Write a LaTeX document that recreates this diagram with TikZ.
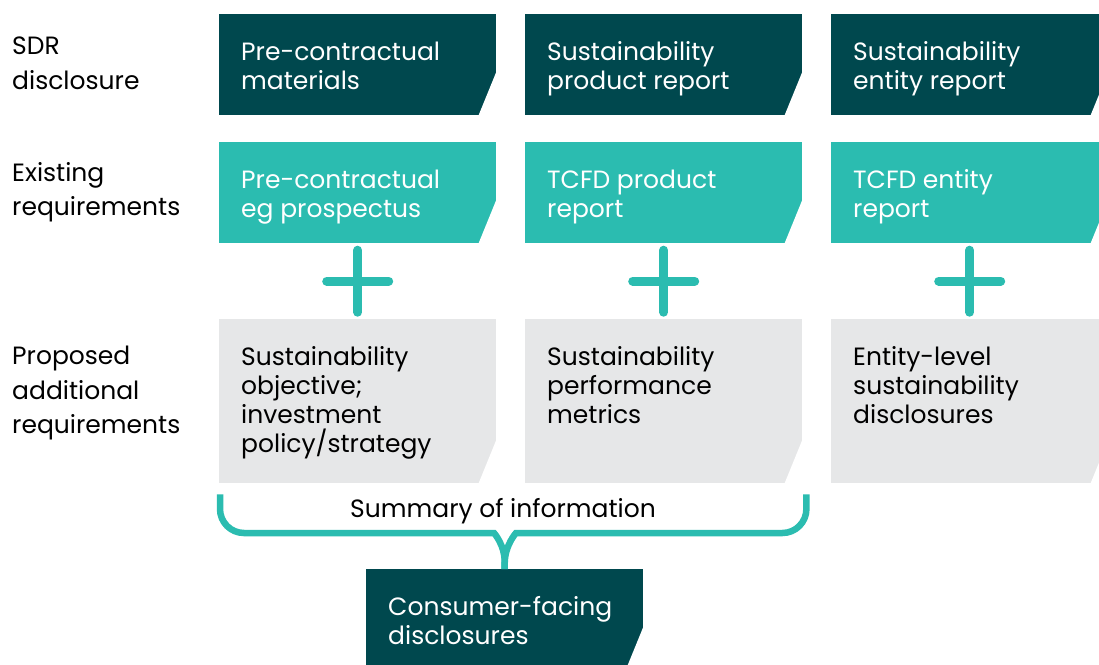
\documentclass[tikz,border=0pt]{standalone}
\usepackage{fontspec}
\setmainfont{Poppins}
\usetikzlibrary{calc}

\definecolor{sdrdark}{RGB}{0,72,78}
\definecolor{sdrteal}{RGB}{43,188,176}
\definecolor{sdrgrey}{RGB}{230,231,232}

\tikzset{
  card/.style={minimum width=277pt, minimum height=#1, inner sep=0pt, anchor=north west,
    path picture={\fill[white] ([xshift=-18pt,yshift=-1pt]path picture bounding box.south east)
      -- ([xshift=2pt,yshift=-1pt]path picture bounding box.south east)
      -- ([xshift=2pt,yshift=48pt]path picture bounding box.south east) -- cycle;}},
  cardtext/.style={anchor=north west, xshift=22pt, yshift=-27.5pt, inner sep=0pt, align=left,
    text=#1, font=\fontsize{25}{29}\selectfont},
  rowlabel/.style={anchor=north west, inner sep=0pt, align=left,
    font=\fontsize{25}{34.5}\selectfont},
  plus/.style={draw=sdrteal, line width=9pt, line cap=round},
  brace/.style={draw=sdrteal, line width=6.5pt}
}

\begin{document}
\begin{tikzpicture}[x=1pt, y=-1pt]
  \fill[white] (0,0) rectangle (1099,664);
  \useasboundingbox (0,0) rectangle (1099,664);

  % row labels
  \node[rowlabel] (lsdr) at (12,37) {SDR\\disclosure};
  \node[rowlabel] (lexist) at (12,162) {Existing\\requirements};
  \node[rowlabel] (lprop) at (12,346) {Proposed\\additional\\requirements};

  % SDR disclosure
  \node[card=101pt, fill=sdrdark, label={[cardtext=white]north west:Pre-contractual\\materials}] (sdr1) at (219,14) {};
  \node[card=101pt, fill=sdrdark, label={[cardtext=white]north west:Sustainability\\product report}] (sdr2) at (525,14) {};
  \node[card=101pt, fill=sdrdark, label={[cardtext=white]north west:Sustainability\\entity report}] (sdr3) at (831,14) {};

  % existing requirements
  \node[card=101pt, fill=sdrteal, label={[cardtext=white]north west:Pre-contractual\\eg prospectus}] (ex1) at (219,142) {};
  \node[card=101pt, fill=sdrteal, label={[cardtext=white]north west:TCFD product\\report}] (ex2) at (525,142) {};
  \node[card=101pt, fill=sdrteal, label={[cardtext=white]north west:TCFD entity\\report}] (ex3) at (831,142) {};

  % proposed additional requirements
  \node[card=164pt, fill=sdrgrey, label={[cardtext=black]north west:Sustainability\\objective;\\investment\\policy/strategy}] (pr1) at (219,319) {};
  \node[card=164pt, fill=sdrgrey, label={[cardtext=black]north west:Sustainability\\performance\\metrics}] (pr2) at (525,319) {};
  \node[card=164pt, fill=sdrgrey, label={[cardtext=black]north west:Entity-level\\sustainability\\disclosures}] (pr3) at (831,319) {};

  % plus signs
  \foreach \i in {1,2,3} {
    \coordinate (p\i) at ($(ex\i.south)!0.5!(pr\i.north)$);
    \draw[plus] ($(p\i)+(-31,0)$) -- ($(p\i)+(31,0)$);
    \draw[plus] ($(p\i)+(0,-31)$) -- ($(p\i)+(0,31)$);
  }

  % consumer-facing
  \node[card=101pt, fill=sdrdark, label={[cardtext=white]north west:Consumer-facing\\disclosures}] (cons) at (366,569) {};

  % brace
  \coordinate (bl) at ([xshift=1pt,yshift=-11pt]pr1.south west);
  \coordinate (br) at ([xshift=4pt,yshift=-11pt]pr2.south east);
  \coordinate (tip) at ([yshift=6pt]cons.north);
  \draw[brace] (bl) [rounded corners=24pt] |- (470,533) [sharp corners]
    .. controls (494,533) and (505,545) .. (tip) -- (cons.north);
  \draw[brace] (br) [rounded corners=24pt] |- (540,533) [sharp corners]
    .. controls (516,533) and (505,545) .. (tip) -- (cons.north);
  \node[anchor=base, inner sep=0pt, font=\fontsize{25}{29}\selectfont] (summ) at (503,517) {Summary of information};
\end{tikzpicture}
\end{document}
